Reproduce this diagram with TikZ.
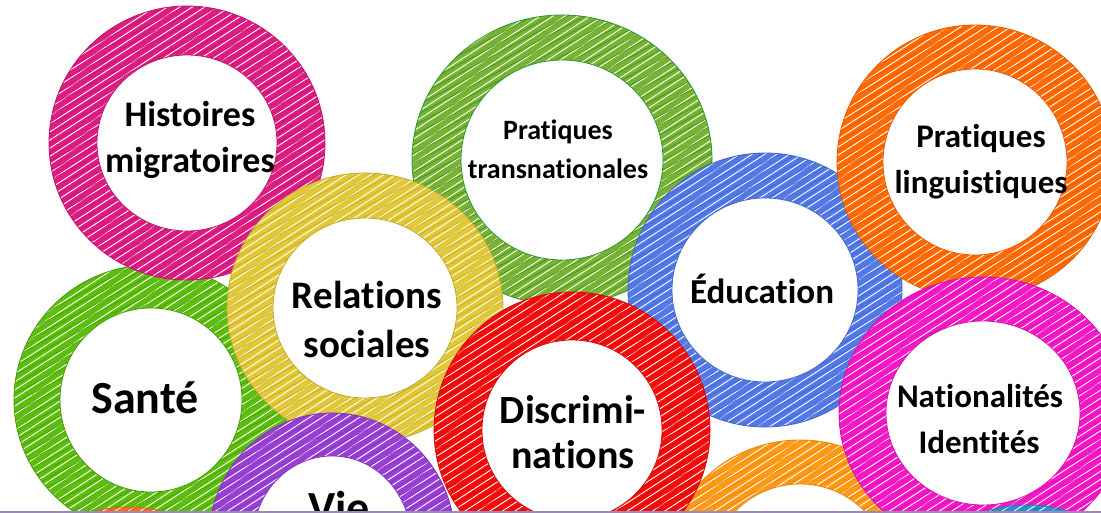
\documentclass[tikz,border=0pt]{standalone}
\usepackage{fontspec}
\setmainfont{Carlito}[Ligatures=NoCommon]
\usetikzlibrary{patterns.meta}
\definecolor{magH}{RGB}{222,27,128}
\definecolor{greenT}{RGB}{122,178,48}
\definecolor{greenTedge}{RGB}{40,150,50}
\definecolor{orangeL}{RGB}{255,105,0}
\definecolor{blueE}{RGB}{82,120,232}
\definecolor{yellowR}{RGB}{226,200,52}
\definecolor{greenS}{RGB}{92,190,12}
\definecolor{redD}{RGB}{242,12,12}
\definecolor{magN}{RGB}{245,22,200}
\definecolor{purpleV}{RGB}{152,62,212}
\definecolor{orangeB}{RGB}{255,152,18}
\definecolor{orangeS}{RGB}{250,110,20}
\definecolor{tealS}{RGB}{40,145,205}
\definecolor{barcol}{RGB}{155,138,180}
% ring: cx cy Rx Ry rx ry colour edgecolour
\newcommand\ringE[8]{%
  \fill[#7, even odd rule] (#1,#2) ellipse[x radius={#3*0.5pt}, y radius={#4*0.5pt}]
        (#1,#2) ellipse[x radius={#5*0.5pt}, y radius={#6*0.5pt}];
  \fill[even odd rule, pattern={Lines[angle=33,distance=3.4pt,line width=0.45pt]}, pattern color=white, fill opacity=0.28]
        (#1,#2) ellipse[x radius={#3*0.5pt}, y radius={#4*0.5pt}]
        (#1,#2) ellipse[x radius={#5*0.5pt}, y radius={#6*0.5pt}];
  \fill[even odd rule, pattern={Lines[angle=28,distance=4.1pt,line width=0.3pt]}, pattern color=#8, fill opacity=0.18]
        (#1,#2) ellipse[x radius={#3*0.5pt}, y radius={#4*0.5pt}]
        (#1,#2) ellipse[x radius={#5*0.5pt}, y radius={#6*0.5pt}];
  \fill[white] (#1,#2) ellipse[x radius={#5*0.5pt}, y radius={#6*0.5pt}];
  \draw[#8, line width=0.4pt] (#1,#2) ellipse[x radius={#3*0.5pt}, y radius={#4*0.5pt}]
        (#1,#2) ellipse[x radius={#5*0.5pt}, y radius={#6*0.5pt}];
}
\tikzset{
  lbl/.style={inner sep=0pt, anchor=base, text=black},
  fs/.style={font=\bfseries\fontsize{#1}{#1}\selectfont}
}
\begin{document}
\begin{tikzpicture}[x=0.5pt, y=-0.5pt]
\useasboundingbox (0,0) rectangle (1101,513);
\clip (0,0) rectangle (1101,513);
\fill[white] (0,0) rectangle (1101,513);
% rings, back to front
\ringE{562}{160}{150}{145}{101}{100}{greenT}{greenTedge}
\ringE{151}{400}{137}{135}{91}{92}{greenS}{greenS!80!black}
\ringE{187}{143}{138}{137}{90}{88}{magH}{magH!85!black}
\ringE{365}{308}{138}{135}{92}{90}{yellowR}{yellowR!85!black}
\ringE{332}{540}{123}{127}{79}{84}{purpleV}{purpleV!85!black}
\ringE{765}{290}{137}{137}{93}{92}{blueE}{blueE!85!black}
\ringE{975}{162}{138}{137}{92}{93}{orangeL}{orangeL!88!black}
\ringE{800}{578}{138}{138}{92}{94}{orangeB}{orangeB!88!black}
\ringE{572}{430}{138}{138}{90}{90}{redD}{redD!88!black}
\ringE{983}{413}{144}{136}{97}{92}{magN}{magN!85!black}
\ringE{1027}{643}{138}{138}{92}{92}{tealS}{tealS!85!black}
\ringE{128}{645}{138}{138}{92}{92}{orangeS}{orangeS!88!black}
% labels
\node[lbl, fs=18] (h1) at (190,127) {Histoires};
\node[lbl, fs=18] (h2) at (190,173) {migratoires};
\node[lbl, fs=14] (t1) at (558,140) {Pratiques};
\node[lbl, fs=14] (t2) at (558,178) {transnationales};
\node[lbl, fs=16.5] (l1) at (981,148) {Pratiques};
\node[lbl, fs=16.5] (l2) at (981,193) {linguistiques};
\node[lbl, fs=19.5] (r1) at (367,308) {Relations};
\node[lbl, fs=19.5] (r2) at (367,357) {sociales};
\node[lbl, fs=23] (s1) at (145,413) {Santé};
\node[lbl, fs=17.5] (e1) at (762,303) {Éducation};
\node[lbl, fs=20] (d1) at (573,423) {Discrimi-};
\node[lbl, fs=20] (d2) at (573,468) {nations};
\node[lbl, fs=16.5] (n1) at (980,407) {Nationalités};
\node[lbl, fs=16.5] (n2) at (979,453) {Identités};
\node[lbl, fs=23] (v1) at (339,523) {Vie};
% bottom bar
\fill[barcol] (0,510.5) rectangle (1101,513);
\end{tikzpicture}
\end{document}
